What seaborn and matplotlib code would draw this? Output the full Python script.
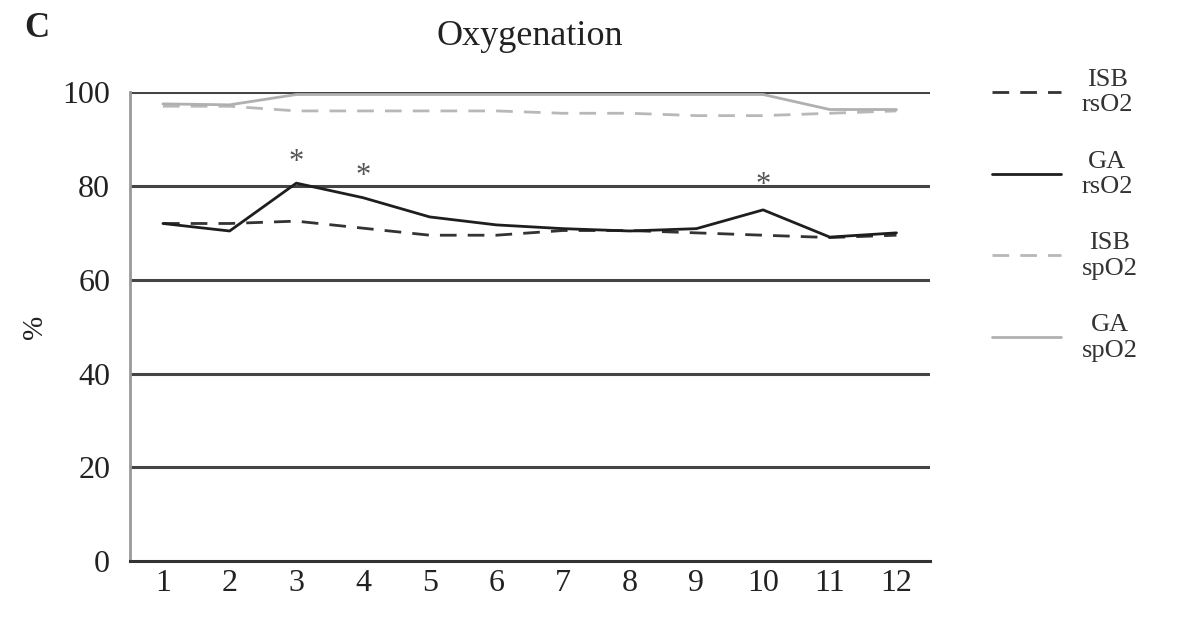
import matplotlib
matplotlib.use("Agg")
import matplotlib.pyplot as plt
import seaborn as sns
import pandas as pd

sns.set_theme(style="white")
plt.rcParams['font.family'] = ['Liberation Serif', 'DejaVu Serif']

time_points = [1, 2, 3, 4, 5, 6, 7, 8, 9, 10, 11, 12]
isb_rso2 = [72, 72, 72.5, 71, 69.5, 69.5, 70.5, 70.5, 70, 69.5, 69, 69.5]
ga_rso2 = [72, 70.4, 80.6, 77.5, 73.4, 71.7, 70.9, 70.4, 70.9, 74.9, 69.1, 70]
isb_spo2 = [97, 97, 96, 96, 96, 96, 95.5, 95.5, 95, 95, 95.5, 96]
ga_spo2 = [97.5, 97.3, 99.5, 99.5, 99.5, 99.5, 99.5, 99.5, 99.5, 99.5, 96.3, 96.3]
labels = ["ISB\nrsO2", "GA\nrsO2", "ISB\nspO2", "GA\nspO2"]
ast_x = [3, 4, 10]
ast_y = [85, 82, 80]
yticks = [0, 20, 40, 60, 80, 100]

fig = plt.figure(figsize=(11.89, 6.27), dpi=100)
ax = fig.add_axes([0.109, 0.105, 0.673, 0.748])

styles = [
    dict(color="#333333", linestyle=(0, (6, 4)), linewidth=2.0),
    dict(color="#1e1e1e", linestyle="-", linewidth=2.0),
    dict(color="#b8b8b8", linestyle=(0, (6, 4)), linewidth=2.0),
    dict(color="#b0b0b0", linestyle="-", linewidth=2.0),
]
series = [isb_rso2, ga_rso2, isb_spo2, ga_spo2]
for s, lab, st in zip(series, labels, styles):
    df = pd.DataFrame({"t": time_points, "v": s})
    sns.lineplot(data=df, x="t", y="v", ax=ax, label=lab, **st)

for xx, yy in zip(ast_x, ast_y):
    ax.text(xx, yy, "*", ha="center", va="center", fontsize=22, color="#555555")

ax.set_xlim(0.5, 12.5)
ax.set_ylim(0, 100)
ax.set_xticks(time_points)
ax.set_yticks(yticks)
ax.tick_params(axis="both", labelsize=23, colors="#222222", length=0)
ax.tick_params(axis="y", pad=14)
ax.tick_params(axis="x", pad=6)
for yv in yticks[1:]:
    ax.axhline(yv, color="#444444", linewidth=2.2, zorder=0)
ax.set_xlabel("")
ax.set_ylabel("%", fontsize=21, labelpad=10, color="#222222")
ax.set_title("Oxygenation", fontsize=26, pad=34, color="#222222")
for sp in ["top", "right"]:
    ax.spines[sp].set_visible(False)
ax.spines["left"].set_color("#999999")
ax.spines["left"].set_linewidth(2)
ax.spines["bottom"].set_color("#333333")
ax.spines["bottom"].set_linewidth(2.2)

fig.text(0.02, 0.955, "C", fontsize=25, fontweight="bold", color="#222222", va="center")

leg = ax.legend(loc="upper left", bbox_to_anchor=(1.048, 1.1), frameon=False,
                fontsize=19, handlelength=2.6, labelspacing=1.3, handletextpad=0.8)
for t in leg.get_texts():
    t.set_multialignment("center")
    t.set_color("#333333")

fig.savefig("out.png", dpi=100)
